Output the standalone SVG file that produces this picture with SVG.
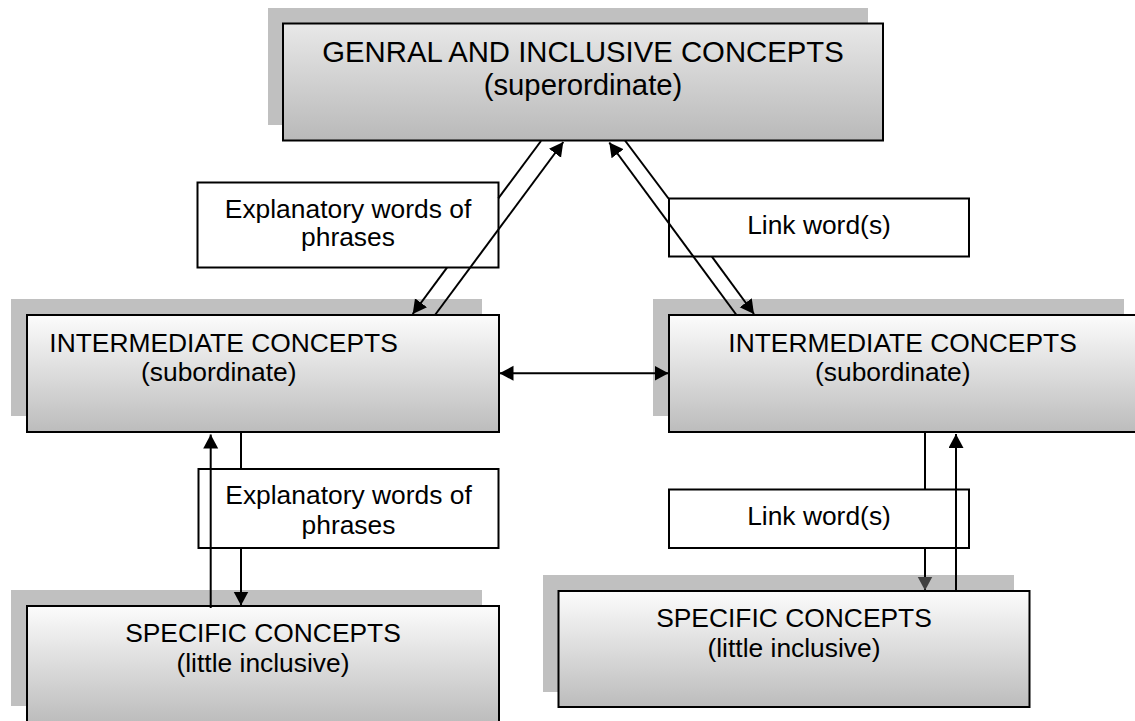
<svg xmlns="http://www.w3.org/2000/svg" width="1135" height="721" viewBox="0 0 1135 721">
<defs>
<linearGradient id="gTop" x1="0" y1="0" x2="0" y2="1">
<stop offset="0" stop-color="#e8e8e8"/>
<stop offset="1" stop-color="#b9b9b9"/>
</linearGradient>
<linearGradient id="gBox" x1="0" y1="0" x2="0" y2="1">
<stop offset="0" stop-color="#fcfcfc"/>
<stop offset="1" stop-color="#bcbcbc"/>
</linearGradient>
<marker id="ah" markerUnits="userSpaceOnUse" markerWidth="16" markerHeight="16" refX="14" refY="7.5" orient="auto">
<path d="M0,0 L14,7.5 L0,15 Z" fill="#000"/>
</marker>
<marker id="ahs" markerUnits="userSpaceOnUse" markerWidth="16" markerHeight="16" refX="14" refY="7.5" orient="auto-start-reverse">
<path d="M0,0 L14,7.5 L0,15 Z" fill="#000"/>
</marker>
<marker id="ahg" markerUnits="userSpaceOnUse" markerWidth="16" markerHeight="16" refX="14" refY="7.5" orient="auto">
<path d="M0,0 L14,7.5 L0,15 Z" fill="#404040"/>
</marker>
</defs>
<style>
.sh{fill:#c0c0c0;stroke:none}
.box{stroke:#000;stroke-width:2}
.lbl{fill:#fff;stroke:#000;stroke-width:2}
text{font-family:"Liberation Sans",Arial,sans-serif;fill:#000}
.t{font-size:26.4px}
.tt{font-size:29.3px}
.c{text-anchor:middle}
.ln{stroke:#000;stroke-width:2;fill:none}
</style>
<rect width="1135" height="721" fill="#fff"/>

<g id="node-general">
<rect class="sh" x="268" y="8" width="600" height="117"/>
<rect class="box" x="283" y="23.5" width="600" height="117" fill="url(#gTop)"/>
<text class="tt c" x="583" y="62">GENRAL AND INCLUSIVE CONCEPTS</text>
<text class="tt c" x="583" y="95">(superordinate)</text>
</g>

<g id="node-intermediate-left">
<rect class="sh" x="11" y="299" width="471" height="117"/>
<rect class="box" x="27" y="315" width="472" height="117" fill="url(#gBox)"/>
<text class="t" x="49.3" y="351.5">INTERMEDIATE CONCEPTS</text>
<text class="t" x="141" y="380.5">(subordinate)</text>
</g>

<g id="node-intermediate-right">
<rect class="sh" x="653" y="299" width="471" height="117"/>
<rect class="box" x="669" y="315" width="472" height="117" fill="url(#gBox)"/>
<text class="t" x="728.3" y="351.5">INTERMEDIATE CONCEPTS</text>
<text class="t" x="815" y="381">(subordinate)</text>
</g>

<g id="node-specific-left">
<rect class="sh" x="11" y="590" width="471" height="116"/>
<rect class="box" x="27" y="606" width="472" height="117" fill="url(#gBox)"/>
<text class="t c" x="263" y="641.7">SPECIFIC CONCEPTS</text>
<text class="t c" x="263" y="671.7">(little inclusive)</text>
</g>

<g id="node-specific-right">
<rect class="sh" x="543" y="575" width="471" height="117"/>
<rect class="box" x="558.5" y="591" width="471" height="116" fill="url(#gBox)"/>
<text class="t c" x="794" y="626.7">SPECIFIC CONCEPTS</text>
<text class="t c" x="794" y="656.7">(little inclusive)</text>
</g>

<g id="label-explanatory-top">
<rect class="lbl" x="197.5" y="182.5" width="301" height="85"/>
<text class="t c" x="348" y="217.5">Explanatory words of</text>
<text class="t c" x="348" y="246">phrases</text>
</g>

<g id="label-link-top">
<rect class="lbl" x="669" y="198.5" width="300" height="58"/>
<text class="t c" x="819" y="234">Link word(s)</text>
</g>

<g id="label-explanatory-bottom">
<rect class="lbl" x="198.5" y="469" width="300" height="79"/>
<text class="t c" x="348.5" y="503.5">Explanatory words of</text>
<text class="t c" x="348.5" y="533.5">phrases</text>
</g>

<g id="label-link-bottom">
<rect class="lbl" x="669" y="489.5" width="300" height="58.5"/>
<text class="t c" x="819" y="525">Link word(s)</text>
</g>

<g id="connectors">
<line class="ln" x1="541" y1="141" x2="498.3" y2="198.4"/>
<line class="ln" x1="447" y1="267.7" x2="412.7" y2="314" marker-end="url(#ah)"/>
<line class="ln" x1="435" y1="315" x2="563.3" y2="142" marker-end="url(#ah)"/>
<line class="ln" x1="625" y1="140.5" x2="668.5" y2="198.5"/>
<line class="ln" x1="711.9" y1="256.7" x2="754" y2="314" marker-end="url(#ah)"/>
<line class="ln" x1="736.5" y1="315" x2="609.3" y2="142.5" marker-end="url(#ah)"/>
<line class="ln" x1="499.5" y1="373.3" x2="668.5" y2="373.3" marker-start="url(#ahs)" marker-end="url(#ahs)"/>
<line class="ln" x1="241" y1="432" x2="241" y2="469"/>
<line class="ln" x1="241" y1="548" x2="241" y2="605.5" marker-end="url(#ah)"/>
<line class="ln" x1="210.7" y1="608" x2="210.7" y2="434.5" marker-end="url(#ah)"/>
<line class="ln" x1="925" y1="432" x2="925" y2="489.5"/>
<line class="ln" x1="925" y1="548" x2="925" y2="590.5" marker-end="url(#ahg)"/>
<line class="ln" x1="956" y1="591" x2="956" y2="434" marker-end="url(#ah)"/>
</g>
</svg>
